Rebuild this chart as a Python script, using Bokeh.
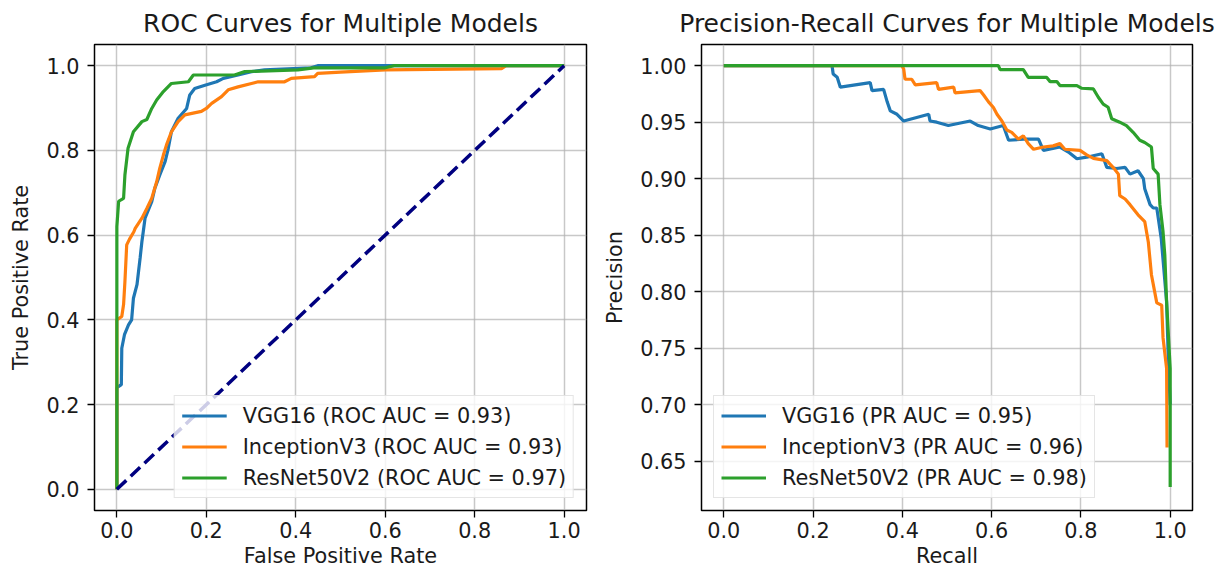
from bokeh.plotting import figure
from bokeh.layouts import row
from bokeh.models import Range1d, FixedTicker, PrintfTickFormatter
from bokeh.embed import file_html
from bokeh.resources import INLINE

FONT = "DejaVu Sans"
C_VGG = "#1f77b4"
C_INC = "#ff7f0e"
C_RES = "#2ca02c"

# ---------------- data ----------------
models = ["VGG16", "InceptionV3", "ResNet50V2"]
roc_auc = [0.93, 0.93, 0.97]
pr_auc = [0.95, 0.96, 0.98]

roc_vgg_fpr = [0, 0, 0.01, 0.011, 0.017, 0.026, 0.033, 0.037, 0.045, 0.052, 0.056, 0.059, 0.063, 0.078,
               0.085, 0.096, 0.108, 0.115, 0.122, 0.137, 0.156, 0.163, 0.174, 0.197, 0.223, 0.238, 0.271,
               0.301, 0.330, 0.434, 0.449, 1.0]
roc_vgg_tpr = [0, 0.24, 0.247, 0.333, 0.365, 0.388, 0.40, 0.451, 0.483, 0.546, 0.585, 0.608, 0.64, 0.679,
               0.711, 0.742, 0.774, 0.805, 0.844, 0.876, 0.899, 0.931, 0.946, 0.954, 0.962, 0.970, 0.978,
               0.986, 0.990, 0.995, 1.0, 1.0]

roc_inc_fpr = [0, 0, 0.011, 0.015, 0.018, 0.022, 0.028, 0.038, 0.041, 0.056, 0.067, 0.078, 0.089, 0.096,
               0.104, 0.111, 0.122, 0.137, 0.152, 0.189, 0.2, 0.212, 0.234, 0.249, 0.271, 0.301, 0.316,
               0.375, 0.39, 0.442, 0.449, 0.50, 0.60, 0.86, 0.87, 1.0]
roc_inc_tpr = [0, 0.40, 0.408, 0.436, 0.49, 0.577, 0.59, 0.608, 0.616, 0.64, 0.663, 0.687, 0.726, 0.758,
               0.789, 0.813, 0.844, 0.868, 0.884, 0.892, 0.899, 0.911, 0.927, 0.943, 0.950, 0.958, 0.962,
               0.962, 0.970, 0.974, 0.982, 0.985, 0.990, 0.993, 1.0, 1.0]

roc_res_fpr = [0, 0, 0.004, 0.015, 0.018, 0.025, 0.037, 0.056, 0.067, 0.078, 0.089, 0.104, 0.122, 0.160,
               0.171, 0.263, 0.286, 0.405, 0.44, 0.60, 0.62, 1.0]
roc_res_tpr = [0, 0.62, 0.68, 0.687, 0.742, 0.805, 0.844, 0.868, 0.873, 0.899, 0.919, 0.939, 0.958, 0.962,
               0.978, 0.978, 0.986, 0.990, 0.995, 0.995, 1.0, 1.0]

chance_x = [0, 1]
chance_y = [0, 1]

pr_vgg_rec = [0, 0.2425, 0.245, 0.254, 0.261, 0.328, 0.332, 0.358, 0.366, 0.373, 0.388, 0.403, 0.459, 0.462,
              0.477, 0.503, 0.552, 0.570, 0.597, 0.626, 0.638, 0.671, 0.705, 0.716, 0.753, 0.772, 0.791,
              0.813, 0.847, 0.858, 0.880, 0.899, 0.910, 0.928, 0.940, 0.943, 0.955, 0.962, 0.970, 0.980,
              0.992, 0.996, 1.0]
pr_vgg_prec = [1.0, 1.0, 0.9926, 0.9897, 0.981, 0.985, 0.978, 0.979, 0.968, 0.960, 0.957, 0.951, 0.957, 0.951,
               0.950, 0.947, 0.951, 0.947, 0.944, 0.947, 0.934, 0.935, 0.935, 0.925, 0.928, 0.9235, 0.9176,
               0.919, 0.922, 0.910, 0.909, 0.910, 0.904, 0.907, 0.900, 0.891, 0.877, 0.874, 0.874, 0.847,
               0.791, 0.738, 0.70]

pr_inc_rec = [0, 0.399, 0.403, 0.406, 0.421, 0.429, 0.477, 0.481, 0.515, 0.518, 0.574, 0.582, 0.593, 0.604,
              0.612, 0.623, 0.634, 0.645, 0.660, 0.671, 0.682, 0.694, 0.716, 0.738, 0.753, 0.764, 0.798,
              0.813, 0.828, 0.858, 0.872, 0.884, 0.887, 0.899, 0.910, 0.928, 0.943, 0.951, 0.958, 0.970,
              0.981, 0.984, 0.992, 0.993]
pr_inc_prec = [1.0, 1.0, 0.997, 0.988, 0.988, 0.983, 0.985, 0.979, 0.981, 0.976, 0.978, 0.974, 0.968, 0.963,
               0.957, 0.951, 0.943, 0.941, 0.935, 0.938, 0.931, 0.926, 0.928, 0.929, 0.931, 0.926, 0.925,
               0.921, 0.918, 0.916, 0.910, 0.904, 0.885, 0.882, 0.877, 0.868, 0.862, 0.844, 0.815, 0.790,
               0.788, 0.759, 0.732, 0.662]

pr_res_rec = [0, 0.615, 0.619, 0.671, 0.682, 0.723, 0.731, 0.746, 0.753, 0.791, 0.802, 0.828, 0.839, 0.850,
              0.861, 0.869, 0.887, 0.902, 0.917, 0.932, 0.943, 0.958, 0.962, 0.973, 0.977, 0.984, 0.988,
              0.992, 1.0, 1.0]
pr_res_prec = [1.0, 1.0, 0.9965, 0.9965, 0.9897, 0.9897, 0.9859, 0.9859, 0.9824, 0.9824, 0.980, 0.9794, 0.972,
               0.966, 0.9632, 0.953, 0.950, 0.947, 0.941, 0.934, 0.932, 0.928, 0.909, 0.904, 0.877, 0.853,
               0.832, 0.791, 0.732, 0.627]

unit_ticks = [0.0, 0.2, 0.4, 0.6, 0.8, 1.0]
prec_ticks = [0.65, 0.70, 0.75, 0.80, 0.85, 0.90, 0.95, 1.00]

TXT = "#1a1a1a"


def make_fig(width, left, right, x_range, y_range, yticks, yfmt, ylabel, xlabel, title):
    p = figure(width=width, height=573, x_range=x_range, y_range=y_range,
               output_backend="svg", toolbar_location=None, title=title,
               min_border_left=left, min_border_right=right, min_border_top=43, min_border_bottom=63)
    p.background_fill_color = "white"
    p.border_fill_color = "white"
    p.outline_line_color = "black"
    p.outline_line_width = 1.5
    p.grid.grid_line_color = "#b0b0b0"
    p.grid.grid_line_alpha = 0.7
    p.grid.grid_line_width = 1.5
    p.xaxis.ticker = FixedTicker(ticks=unit_ticks)
    p.yaxis.ticker = FixedTicker(ticks=yticks)
    p.xaxis.formatter = PrintfTickFormatter(format="%.1f")
    p.yaxis.formatter = PrintfTickFormatter(format=yfmt)
    for ax in (p.xaxis, p.yaxis):
        ax.axis_line_color = None
        ax.major_tick_out = 7
        ax.major_tick_in = 0
        ax.major_tick_line_color = "black"
        ax.major_tick_line_width = 1.3
        ax.minor_tick_line_color = None
        ax.major_label_text_font = FONT
        ax.major_label_text_font_size = "20.8px"
        ax.major_label_text_color = TXT
        ax.axis_label_text_font = FONT
        ax.axis_label_text_font_size = "20.8px"
        ax.axis_label_text_font_style = "normal"
        ax.axis_label_text_color = TXT
    p.xaxis.major_label_standoff = 4
    p.yaxis.major_label_standoff = 8
    p.yaxis.axis_label = ylabel
    p.yaxis.axis_label_standoff = 10
    p.xaxis.axis_label = xlabel
    p.xaxis.axis_label_standoff = 3
    p.title.align = "center"
    p.title.text_font = FONT
    p.title.text_font_size = "25px"
    p.title.text_font_style = "normal"
    p.title.text_color = TXT
    p.title.standoff = 13
    return p


def style_legend(p, loc):
    lg = p.legend[0]
    lg.location = loc
    lg.margin = 12
    lg.padding = 7
    lg.spacing = 6
    lg.label_height = 25
    lg.glyph_height = 25
    lg.glyph_width = 45
    lg.label_standoff = 16
    lg.border_line_color = "#cccccc"
    lg.border_line_width = 1.5
    lg.background_fill_alpha = 0.8
    lg.label_text_font = FONT
    lg.label_text_font_size = "20.8px"
    lg.label_text_color = TXT


p1 = make_fig(600, 94, 14, Range1d(-0.05, 1.05), Range1d(-0.05, 1.05), unit_ticks, "%.1f",
              "True Positive Rate", "False Positive Rate", "ROC Curves for Multiple Models")
p1.line(roc_vgg_fpr, roc_vgg_tpr, line_color=C_VGG, line_width=3.2,
        legend_label=f"{models[0]} (ROC AUC = {roc_auc[0]:.2f})")
p1.line(roc_inc_fpr, roc_inc_tpr, line_color=C_INC, line_width=3.2,
        legend_label=f"{models[1]} (ROC AUC = {roc_auc[1]:.2f})")
p1.line(roc_res_fpr, roc_res_tpr, line_color=C_RES, line_width=3.2,
        legend_label=f"{models[2]} (ROC AUC = {roc_auc[2]:.2f})")
p1.line(chance_x, chance_y, line_color="#000080", line_width=3.5, line_dash="13 6")
style_legend(p1, "bottom_right")

p2 = make_fig(626, 101, 34, Range1d(-0.05, 1.05), Range1d(0.60625, 1.01875), prec_ticks, "%.2f",
              "Precision", "Recall", "Precision-Recall Curves for Multiple Models")
p2.line(pr_vgg_rec, pr_vgg_prec, line_color=C_VGG, line_width=3.2,
        legend_label=f"{models[0]} (PR AUC = {pr_auc[0]:.2f})")
p2.line(pr_inc_rec, pr_inc_prec, line_color=C_INC, line_width=3.2,
        legend_label=f"{models[1]} (PR AUC = {pr_auc[1]:.2f})")
p2.line(pr_res_rec, pr_res_prec, line_color=C_RES, line_width=3.2,
        legend_label=f"{models[2]} (PR AUC = {pr_auc[2]:.2f})")
style_legend(p2, "bottom_left")

layout = row(p1, p2)
open("out.html", "w").write(file_html(layout, INLINE))
